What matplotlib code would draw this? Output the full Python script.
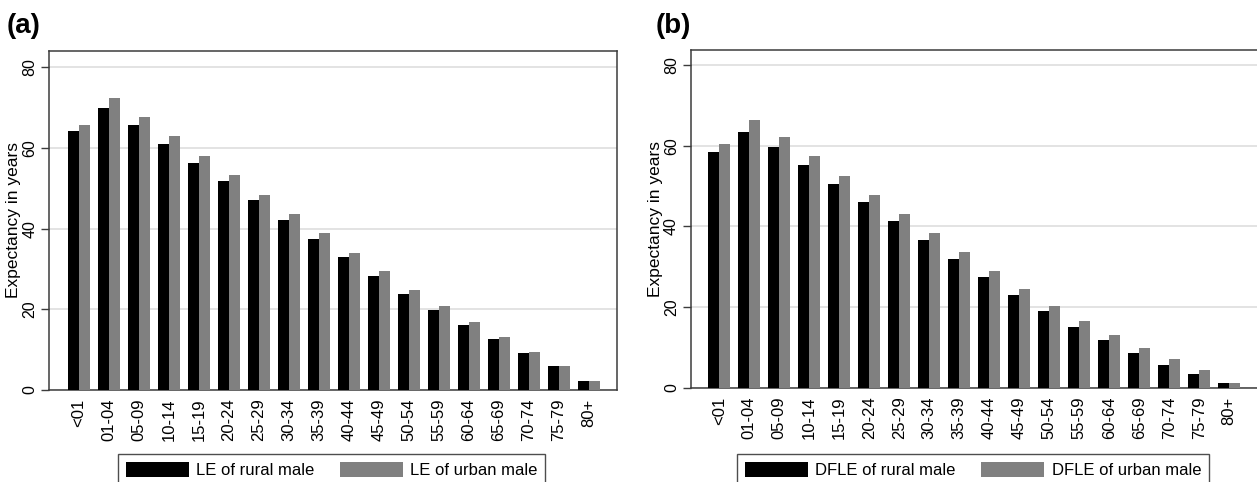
import matplotlib
matplotlib.use("Agg")
import matplotlib.pyplot as plt
import numpy as np

plt.rcParams['font.family'] = ['Liberation Sans', 'DejaVu Sans']

age_groups = ["<01", "01-04", "05-09", "10-14", "15-19", "20-24", "25-29", "30-34",
              "35-39", "40-44", "45-49", "50-54", "55-59", "60-64", "65-69", "70-74",
              "75-79", "80+"]

le_rural_male = [64.2, 69.9, 65.8, 61.1, 56.3, 51.8, 47.0, 42.2, 37.4, 32.9, 28.3,
                 23.9, 19.9, 16.2, 12.7, 9.2, 5.9, 2.3]
le_urban_male = [65.8, 72.5, 67.8, 62.9, 58.0, 53.3, 48.4, 43.6, 38.8, 34.0, 29.4,
                 24.7, 20.9, 16.9, 13.1, 9.5, 6.0, 2.3]

dfle_rural_male = [58.5, 63.5, 59.7, 55.3, 50.6, 46.0, 41.4, 36.7, 31.9, 27.5, 23.1,
                   19.0, 15.1, 11.8, 8.6, 5.8, 3.5, 1.2]
dfle_urban_male = [60.5, 66.3, 62.1, 57.4, 52.6, 47.9, 43.2, 38.4, 33.7, 29.0, 24.6,
                   20.4, 16.6, 13.1, 9.9, 7.1, 4.5, 1.3]

y_ticks = [0, 20, 40, 60, 80]
ylabel = "Expectancy in years"

W, H = 1257, 482
fig = plt.figure(figsize=(W / 100, H / 100), dpi=100)

spine_col = "#3c3c3c"
grid_col = "#e3e3e3"
black = "#000000"
grey = "#808080"


def px(x0, y0, x1, y1):
    return [x0 / W, 1 - y1 / H, (x1 - x0) / W, (y1 - y0) / H]


def panel(rect, rural, urban, labels, xlim, ylim, tag, tagx, legx):
    ax = fig.add_axes(rect)
    x = np.arange(len(age_groups))
    w = 0.375
    b1 = ax.bar(x - w / 2, rural, width=w, color=black, edgecolor="none", zorder=3)
    b2 = ax.bar(x + w / 2, urban, width=w, color=grey, edgecolor="none", zorder=3)
    ax.set_xlim(*xlim)
    ax.set_ylim(*ylim)
    ax.set_yticks(y_ticks)
    ax.set_yticklabels([str(v) for v in y_ticks], rotation=90, va="center", fontsize=11.5)
    ax.set_xticks(x)
    ax.set_xticklabels(age_groups, rotation=90, fontsize=12)
    ax.tick_params(axis="x", length=0, pad=6)
    ax.tick_params(axis="y", length=6, width=1, color=spine_col, pad=2.5)
    for s in ax.spines.values():
        s.set_color(spine_col)
        s.set_linewidth(1.1)
    ax.yaxis.grid(True, color=grid_col, linewidth=1.4, zorder=0)
    ax.set_axisbelow(True)
    ax.set_ylabel(ylabel, fontsize=12.5)
    axw_px = rect[2] * W
    ax.yaxis.set_label_coords(-28 / axw_px, 0.5)
    fig.text(tagx / W, 1 - 26 / H, tag, fontsize=20, fontweight="bold", va="center", ha="left")
    leg = fig.legend([b1, b2], labels, loc="upper left",
                     bbox_to_anchor=(legx / W, 1 - 454 / H), ncol=2,
                     fontsize=12, frameon=True, fancybox=False, handlelength=3.8,
                     handleheight=1.05, handletextpad=0.45, columnspacing=1.5,
                     borderpad=0.45, borderaxespad=0)
    leg.get_frame().set_edgecolor("#222222")
    leg.get_frame().set_linewidth(1.0)
    return ax


panel(px(49, 51, 617, 390), le_rural_male, le_urban_male,
      ["LE of rural male", "LE of urban male"], (-1.0, 17.93), (0, 84.04), "(a)", 7, 118)
panel(px(690.7, 50, 1258, 388), dfle_rural_male, dfle_urban_male,
      ["DFLE of rural male", "DFLE of urban male"], (-0.95, 17.96), (0, 83.7), "(b)", 656, 737)

fig.savefig("out.png", dpi=100)
